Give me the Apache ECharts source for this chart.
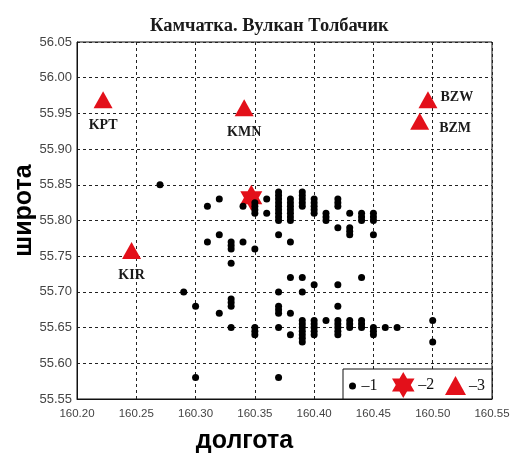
<!DOCTYPE html>
<html>
<head>
<meta charset="utf-8">
<script src="https://cdn.jsdelivr.net/npm/echarts@6/dist/echarts.min.js"></script>
<style>
  html, body { margin: 0; padding: 0; background: #fff; }
  #chart { width: 512px; height: 457px; }
</style>
</head>
<body>
<div id="chart"></div>
<script>
// Earthquake epicentres around Tolbachik volcano, Kamchatka (longitude, latitude)
const quakes = [
  [160.27, 55.85],
  [160.31, 55.82], [160.32, 55.83], [160.34, 55.82],
  [160.35, 55.81], [160.35, 55.815], [160.35, 55.82], [160.35, 55.825],
  [160.36, 55.83], [160.36, 55.81],
  [160.37, 55.80], [160.37, 55.805], [160.37, 55.81], [160.37, 55.815], [160.37, 55.82],
  [160.37, 55.825], [160.37, 55.83], [160.37, 55.835], [160.37, 55.84],
  [160.38, 55.80], [160.38, 55.805], [160.38, 55.81], [160.38, 55.815], [160.38, 55.82],
  [160.38, 55.825], [160.38, 55.83],
  [160.39, 55.82], [160.39, 55.825], [160.39, 55.83], [160.39, 55.835], [160.39, 55.84],
  [160.40, 55.81], [160.40, 55.815], [160.40, 55.82], [160.40, 55.825], [160.40, 55.83],
  [160.41, 55.80], [160.41, 55.805], [160.41, 55.81],
  [160.42, 55.82], [160.42, 55.825], [160.42, 55.83], [160.42, 55.79],
  [160.43, 55.81], [160.43, 55.78], [160.43, 55.785], [160.43, 55.79],
  [160.44, 55.80], [160.44, 55.805], [160.44, 55.81],
  [160.45, 55.80], [160.45, 55.805], [160.45, 55.81], [160.45, 55.78],
  [160.37, 55.78], [160.38, 55.77],
  [160.31, 55.77], [160.32, 55.78],
  [160.33, 55.76], [160.33, 55.765], [160.33, 55.77],
  [160.34, 55.77], [160.35, 55.76], [160.33, 55.74],
  [160.29, 55.70], [160.30, 55.68], [160.32, 55.67],
  [160.33, 55.68], [160.33, 55.685], [160.33, 55.69], [160.33, 55.65],
  [160.35, 55.64], [160.35, 55.645], [160.35, 55.65],
  [160.30, 55.58], [160.37, 55.58],
  [160.37, 55.70], [160.37, 55.67], [160.37, 55.675], [160.37, 55.68], [160.37, 55.65],
  [160.38, 55.72], [160.38, 55.67], [160.38, 55.64],
  [160.39, 55.72], [160.39, 55.70],
  [160.39, 55.63], [160.39, 55.635], [160.39, 55.64], [160.39, 55.645], [160.39, 55.65],
  [160.39, 55.655], [160.39, 55.66],
  [160.40, 55.71],
  [160.40, 55.64], [160.40, 55.645], [160.40, 55.65], [160.40, 55.655], [160.40, 55.66],
  [160.41, 55.66],
  [160.42, 55.71], [160.42, 55.68],
  [160.42, 55.64], [160.42, 55.645], [160.42, 55.65], [160.42, 55.655], [160.42, 55.66],
  [160.43, 55.65], [160.43, 55.655], [160.43, 55.66],
  [160.44, 55.72],
  [160.44, 55.65], [160.44, 55.655], [160.44, 55.66],
  [160.45, 55.64], [160.45, 55.645], [160.45, 55.65],
  [160.46, 55.65], [160.47, 55.65],
  [160.50, 55.66], [160.50, 55.63]
];

// Volcano summit
const volcano = [[160.347, 55.832]];

// Seismic stations
const stationNames = ['KPT', 'KMN', 'BZW', 'BZM', 'KIR'];
const stationLon = [160.222, 160.341, 160.496, 160.489, 160.246];
const stationLat = [55.969, 55.958, 55.969, 55.939, 55.758];
const stationLabelSide = ['bottom', 'bottom', 'right', 'right', 'bottom'];

const legendLabels = ['–1', '–2', '–3'];

const RED = '#e3101a';
const STAR = 'path://M0,-10 L2.887,-5 L8.66,-5 L5.774,0 L8.66,5 L2.887,5 L0,10 L-2.887,5 L-8.66,5 L-5.774,0 L-8.66,-5 L-2.887,-5 Z';
const serif = '"Liberation Serif", "DejaVu Serif", serif';
const sans = '"Liberation Sans", Arial, sans-serif';

const stationData = stationNames.map((n, i) => ({
  name: n,
  value: [stationLon[i], stationLat[i]],
  label: stationLabelSide[i] === 'bottom'
    ? { position: 'bottom', distance: n === 'KPT' ? 10 : 9 }
    : (n === 'BZM'
        ? { position: 'right', distance: 10, offset: [0, 7] }
        : { position: 'right', distance: 3, offset: [0, -2] })
}));

const chart = echarts.init(document.getElementById('chart'), null, { renderer: 'canvas' });

const legendBase = {
  orient: 'horizontal',
  top: 378,
  itemGap: 0,
  padding: 0,
  z: 20,
  textStyle: { fontFamily: serif, fontSize: 16, color: '#111', padding: [0, 0, 0, -2] },
  selectedMode: false
};

chart.setOption({
  animation: false,
  backgroundColor: '#fff',
  title: {
    text: 'Камчатка. Вулкан Толбачик',
    left: 145,
    top: 12,
    textStyle: { fontFamily: serif, fontWeight: 'bold', fontSize: 18.5, color: '#1a1a1a' }
  },
  grid: {
    left: 77, right: 20, top: 42, bottom: 58,
    outerBoundsMode: 'none',
    containLabel: false,
    show: true, borderColor: '#111', borderWidth: 1, backgroundColor: 'transparent'
  },
  xAxis: {
    type: 'value',
    min: 160.20, max: 160.55, interval: 0.05,
    name: 'долгота',
    nameLocation: 'middle',
    nameMoveOverlap: false,
    nameGap: 30,
    nameTextStyle: { fontFamily: sans, fontWeight: 'bold', fontSize: 25, color: '#000', padding: [0, 80, 0, 0] },
    axisLine: { show: true, lineStyle: { color: '#111' } },
    axisTick: { show: false },
    axisLabel: { margin: 9, fontFamily: sans, fontSize: 11.5, color: '#444', formatter: v => v.toFixed(2) },
    splitLine: { show: true, lineStyle: { color: '#222', type: [3, 3], width: 1 } }
  },
  yAxis: {
    type: 'value',
    min: 55.55, max: 56.05, interval: 0.05,
    name: 'широта',
    nameLocation: 'middle',
    nameRotate: 90,
    nameMoveOverlap: false,
    nameGap: 40,
    nameTextStyle: { fontFamily: sans, fontWeight: 'bold', fontSize: 25, color: '#000', padding: [0, 0, 0, 20] },
    axisLine: { show: true, lineStyle: { color: '#111' } },
    axisTick: { show: false },
    axisLabel: { margin: 5, fontFamily: sans, fontSize: 13, color: '#444', formatter: v => v.toFixed(2) },
    splitLine: { show: true, lineStyle: { color: '#222', type: [3, 3], width: 1 } }
  },
  legend: [
    Object.assign({}, legendBase, {
      left: 349, itemWidth: 12, itemHeight: 7,
      data: [{ name: 'quakes', icon: 'circle', itemStyle: { color: '#000' } }],
      formatter: () => legendLabels[0]
    }),
    Object.assign({}, legendBase, {
      left: 392, top: 372, itemWidth: 24, itemHeight: 26,
      data: [{ name: 'volcano', icon: STAR, itemStyle: { color: RED } }],
      formatter: () => legendLabels[1]
    }),
    Object.assign({}, legendBase, {
      left: 445, top: 376, itemWidth: 21, itemHeight: 19,
      data: [{ name: 'stations', icon: 'triangle', itemStyle: { color: RED } }],
      formatter: () => legendLabels[2]
    })
  ],
  graphic: [{
    type: 'rect',
    z: 15,
    shape: { x: 343, y: 369, width: 149, height: 30 },
    style: { fill: '#fff', stroke: '#111', lineWidth: 1 }
  }],
  series: [
    {
      name: 'volcano',
      type: 'scatter',
      symbol: STAR,
      symbolSize: [22, 26],
      itemStyle: { color: RED, opacity: 1 },
      z: 2,
      data: volcano
    },
    {
      name: 'quakes',
      type: 'scatter',
      symbol: 'circle',
      symbolSize: 7,
      itemStyle: { color: '#000', opacity: 1 },
      z: 3,
      data: quakes
    },
    {
      name: 'stations',
      type: 'scatter',
      symbol: 'triangle',
      symbolSize: [19, 17],
      itemStyle: { color: RED, opacity: 1 },
      z: 4,
      label: {
        show: true,
        formatter: p => p.name,
        fontFamily: serif, fontWeight: 'bold', fontSize: 14, color: '#1a1a1a'
      },
      data: stationData
    }
  ]
});
</script>
</body>
</html>
